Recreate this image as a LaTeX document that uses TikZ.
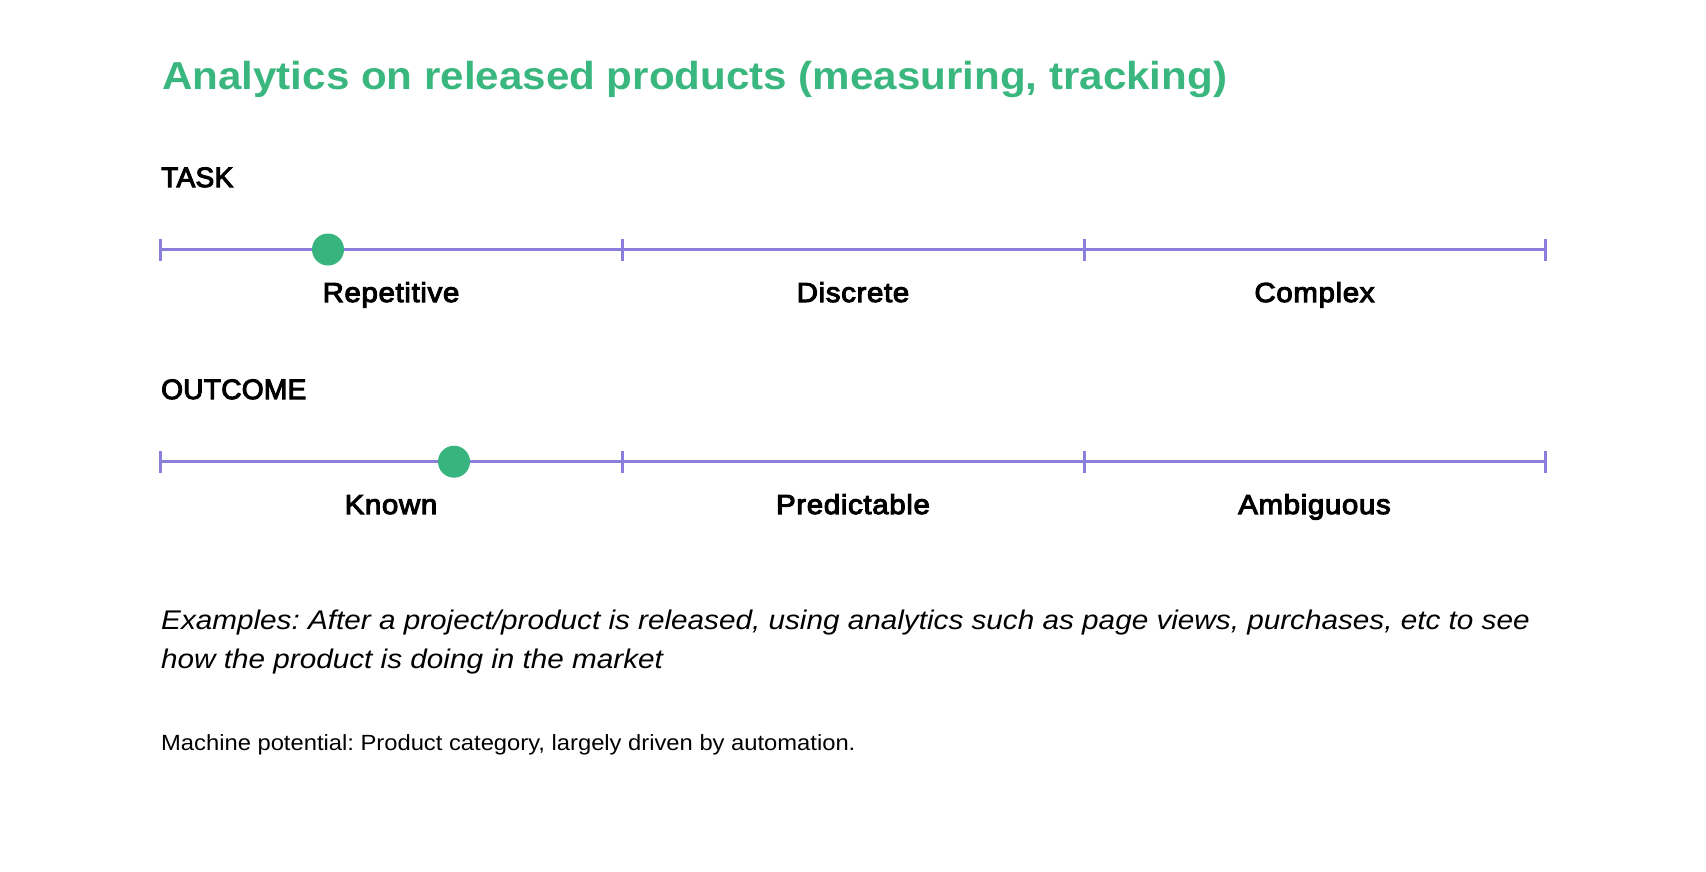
\documentclass[tikz,border=0pt]{standalone}
\usepackage{fontspec}
\setmainfont{Liberation Sans}
\newfontfamily\titlefont[FakeStretch=1.08]{Liberation Sans}
\newfontfamily\headfont[FakeBold=3.8,LetterSpace=1.2]{Liberation Sans}
\newfontfamily\labelfont[FakeBold=3.8,FakeStretch=1.07,LetterSpace=2.4]{Liberation Sans}
\newfontfamily\examplefont[FakeStretch=1.1]{Liberation Sans}
\newfontfamily\smallfont[FakeStretch=1.08]{Liberation Sans}
\definecolor{titlegreen}{HTML}{3AB67F}
\definecolor{dotgreen}{HTML}{38B47E}
\definecolor{scalepurple}{HTML}{8B7FDC}
\frenchspacing
\begin{document}
\begin{tikzpicture}[x=1pt,y=-1pt,
  titletext/.style={anchor=base west,inner sep=0pt,font=\titlefont\fontsize{39}{46}\selectfont\bfseries,text=titlegreen},
  headtext/.style={anchor=base west,inner sep=0pt,font=\headfont\fontsize{28}{33}\selectfont},
  labeltext/.style={anchor=base,inner sep=0pt,font=\labelfont\fontsize{27.5}{32}\selectfont},
  exampletext/.style={anchor=base west,inner sep=0pt,font=\examplefont\fontsize{27}{39}\selectfont\itshape},
  smalltext/.style={anchor=base west,inner sep=0pt,font=\smallfont\fontsize{22}{25}\selectfont},
  scaleline/.style={draw=scalepurple,line width=3pt},
  tickmark/.style={draw=scalepurple,line width=3pt},
  marker/.style={circle,fill=dotgreen,inner sep=0pt,minimum size=32pt}
]
\useasboundingbox (0,0) rectangle (1706,872);
\node[titletext] (title) at (162,90) {Analytics on released products (measuring, tracking)};
\node[headtext] (task) at (161,187) {TASK};
% task scale
\coordinate (t0) at (160,249.5);
\coordinate (t1) at (622,249.5);
\coordinate (t2) at (1084,249.5);
\coordinate (t3) at (1545,249.5);
\draw[scaleline] (t0) -- (t3);
\foreach \p in {t0,t1,t2,t3}{\draw[tickmark] ([yshift=-11pt]\p) -- ([yshift=11pt]\p);}
\node[marker] (tdot) at (328,249.5) {};
\node[labeltext] (rep) at (391,302) {Repetitive};
\node[labeltext] (dis) at (853,302) {Discrete};
\node[labeltext] (com) at (1314.5,302) {Complex};
\node[headtext] (outcome) at (161,399) {OUTCOME};
% outcome scale
\coordinate (o0) at (160,461.7);
\coordinate (o1) at (622,461.7);
\coordinate (o2) at (1084,461.7);
\coordinate (o3) at (1545,461.7);
\draw[scaleline] (o0) -- (o3);
\foreach \p in {o0,o1,o2,o3}{\draw[tickmark] ([yshift=-11pt]\p) -- ([yshift=11pt]\p);}
\node[marker] (odot) at (454,461.7) {};
\node[labeltext] (kno) at (391,514) {Known};
\node[labeltext] (pre) at (853,514) {Predictable};
\node[labeltext] (amb) at (1314.5,514) {Ambiguous};
\node[exampletext] (ex1) at (161,629) {Examples: After a project/product is released, using analytics such as page views, purchases, etc to see};
\node[exampletext] (ex2) at (161,668) {how the product is doing in the market};
\node[smalltext] (mach) at (161,750) {Machine potential: Product category, largely driven by automation.};
\end{tikzpicture}
\end{document}
